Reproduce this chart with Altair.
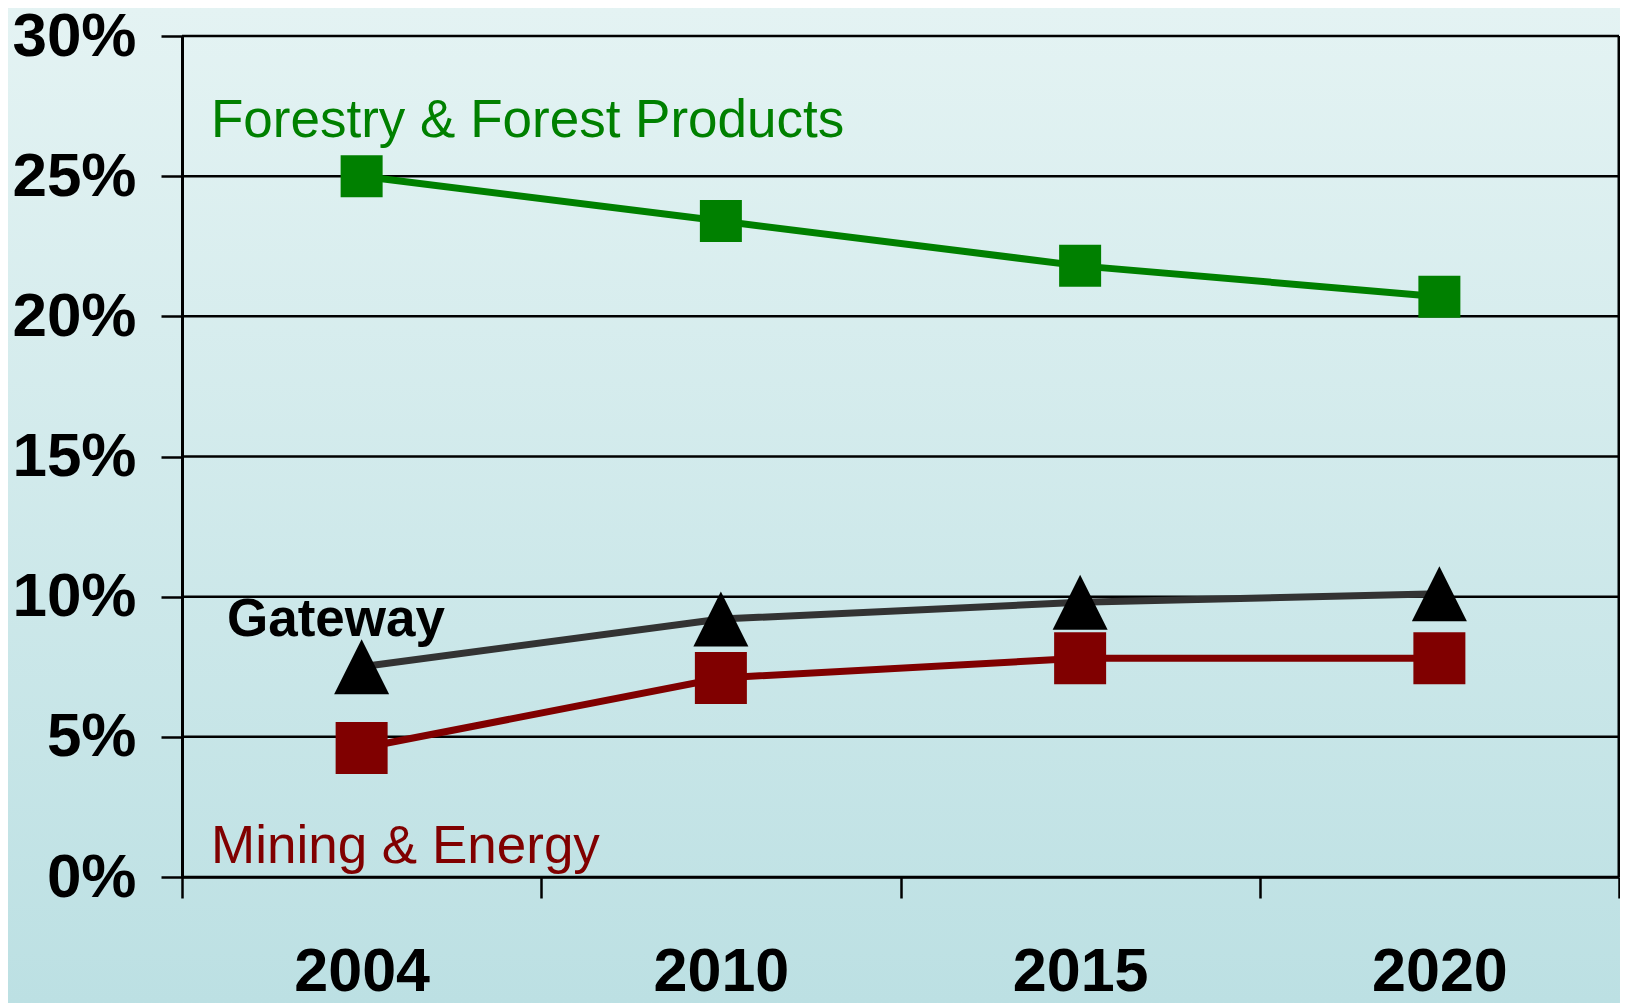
import altair as alt
import pandas as pd

# ---- data ----
years = ["2004", "2010", "2015", "2020"]
forestry = [25.0, 23.4, 21.8, 20.7]
gateway = [7.5, 9.2, 9.8, 10.1]
mining = [4.6, 7.1, 7.8, 7.8]
y_ticks = [0, 5, 10, 15, 20, 25, 30]
series_names = ["Forestry & Forest Products", "Gateway", "Mining & Energy"]

# ---- layout / style ----
W, H = 1437, 841
PL, PT, PR, PB = 174, 28, 1, 126
FONT = "Liberation Sans"
line_colors = ["#008000", "#333333", "#800000"]
TRI = "M0,-1L1,1L-1,1Z"

rows = []
for name, vals in zip(series_names, [forestry, gateway, mining]):
    for yr, v in zip(years, vals):
        rows.append({"year": yr, "value": v, "series": name})
df = pd.DataFrame(rows)

x_axis = alt.Axis(
    title=None, tickBand="extent", labelAngle=0, labelFontSize=61, labelFontWeight="bold",
    labelFont=FONT, labelColor="black", labelPadding=44, tickSize=21, tickWidth=2.5,
    tickColor="black", domainColor="black", domainWidth=2.5, grid=False, zindex=1,
)
y_axis = alt.Axis(
    title=None, values=y_ticks, labelExpr="datum.value + '%'", labelFontSize=62,
    labelFontWeight="bold", labelFont=FONT, labelColor="black", labelPadding=25,
    tickSize=21, tickWidth=2.5, tickColor="black", domainColor="black", domainWidth=3,
    grid=False, zindex=1,
)
x_scale = alt.Scale(type="band", domain=years, paddingInner=0, paddingOuter=0)
y_scale = alt.Scale(domain=[0, 30], nice=False, zero=True)

X = alt.X("year:O", scale=x_scale, axis=x_axis)
Y = alt.Y("value:Q", scale=y_scale, axis=y_axis)

one = alt.Data(values=[{}])

bg = alt.Chart(one).mark_rect(
    color=alt.LinearGradient(
        gradient="linear",
        stops=[alt.GradientStop(color="#E4F3F3", offset=0),
               alt.GradientStop(color="#BCE0E3", offset=1)],
        x1=0, x2=0, y1=0, y2=1,
    )
).encode(x=alt.value(-PL), x2=alt.value(W + PR), y=alt.value(-PT), y2=alt.value(H + PB))

grid = alt.Chart(pd.DataFrame({"value": y_ticks})).mark_rule(
    color="black", strokeWidth=2.5
).encode(y=Y)

right_border = alt.Chart(one).mark_rule(color="black", strokeWidth=3).encode(
    x=alt.value(W), y=alt.value(0), y2=alt.value(H)
)

lines = alt.Chart(df).mark_line(strokeWidth=7).encode(
    x=X, y=Y,
    color=alt.Color("series:N", scale=alt.Scale(domain=series_names, range=line_colors), legend=None),
    detail="series:N",
)

def markers(name, shape, color, size):
    return alt.Chart(df).transform_filter(alt.datum.series == name).mark_point(
        filled=True, opacity=1, strokeWidth=0, shape=shape, fill=color, size=size
    ).encode(x=X, y=Y)

m_forest = markers(series_names[0], "square", "#008000", 1764)
m_gate = markers(series_names[1], TRI, "#000000", 3025)
m_mine = markers(series_names[2], "square", "#800000", 2704)

def label(text, color, weight, px, py):
    return alt.Chart(one).mark_text(
        text=text, color=color, font=FONT, fontSize=53, fontWeight=weight,
        align="left", baseline="alphabetic",
    ).encode(x=alt.value(px), y=alt.value(py))

t1 = label("Forestry & Forest Products", "#008000", "normal", 29, 101)
t2 = label("Gateway", "#000000", "bold", 45, 600)
t3 = label("Mining & Energy", "#800000", "normal", 29, 827)

chart = alt.layer(bg, grid, right_border, lines, m_forest, m_gate, m_mine, t1, t2, t3).properties(
    width=W, height=H,
    padding={"left": PL, "top": PT, "right": PR, "bottom": PB},
    autosize=alt.AutoSizeParams(type="none"),
).configure_view(stroke=None)

chart.save("out.html", embed_options={"renderer": "svg", "actions": False})
